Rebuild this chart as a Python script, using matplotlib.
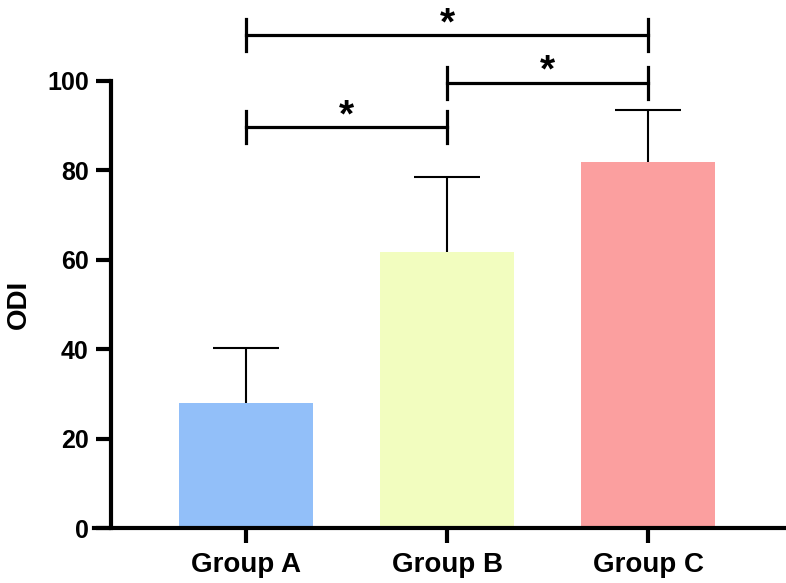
import numpy as np
import matplotlib.pyplot as plt

plt.rcParams['font.family'] = ['Liberation Sans', 'DejaVu Sans']
plt.rcParams['font.weight'] = 'bold'

# Data
groups = ['Group A', 'Group B', 'Group C']
means = [28.0, 61.8, 81.9]
sds = [12.2, 16.8, 11.6]
colors = ['#92bff9', '#f2fdbf', '#fb9f9f']

# significance comparisons: (left index, right index, bracket height, label)
comparisons = [(0, 1, 89.7, '*'), (1, 2, 99.6, '*'), (0, 2, 110.3, '*')]

fig = plt.figure(figsize=(7.86, 5.83), dpi=100)
ax = fig.add_axes([94 / 786, 55 / 583, 691 / 786, 447 / 583])

x = np.arange(len(groups))
ax.bar(x, means, width=0.667, color=colors, zorder=2)
# upper error bars only
_, caps, _ = ax.errorbar(x, means, yerr=[np.zeros(len(sds)), sds], fmt='none',
                         ecolor='black', elinewidth=1.5, capsize=24,
                         capthick=1.5, zorder=3)
caps[0].remove()

ax.set_xlim(-0.756, 2.68)
ax.set_ylim(0, 100)
ax.set_yticks([0, 20, 40, 60, 80, 100])
ax.set_xticks(x)
ax.set_xticklabels(groups)

for side in ['top', 'right']:
    ax.spines[side].set_visible(False)
ax.spines['left'].set_position(('data', -0.672))
ax.spines['left'].set_linewidth(3)
ax.spines['bottom'].set_linewidth(3)
ax.spines['left'].set_capstyle('projecting')
ax.tick_params(axis='both', direction='out', length=11, width=3, pad=5)
ax.tick_params(axis='y', labelsize=18)
ax.tick_params(axis='x', labelsize=20, pad=6)
for lab in ax.get_xticklabels() + ax.get_yticklabels():
    lab.set_fontweight('bold')

ax.set_ylabel('ODI', fontsize=20, fontweight='bold')
ax.yaxis.set_label_coords(-0.09, 0.5)

# significance brackets
for i, j, h, label in comparisons:
    ax.plot([i, j], [h, h], color='black', lw=2.3, clip_on=False)
    for k in (i, j):
        ax.plot([k, k], [h - 3.6, h + 3.6], color='black', lw=2.3, clip_on=False)
    ax.text((i + j) / 2, h + 0.2, label, ha='center', va='baseline',
            fontsize=28, fontweight='bold', clip_on=False)

fig.savefig('out.png', dpi=100)
